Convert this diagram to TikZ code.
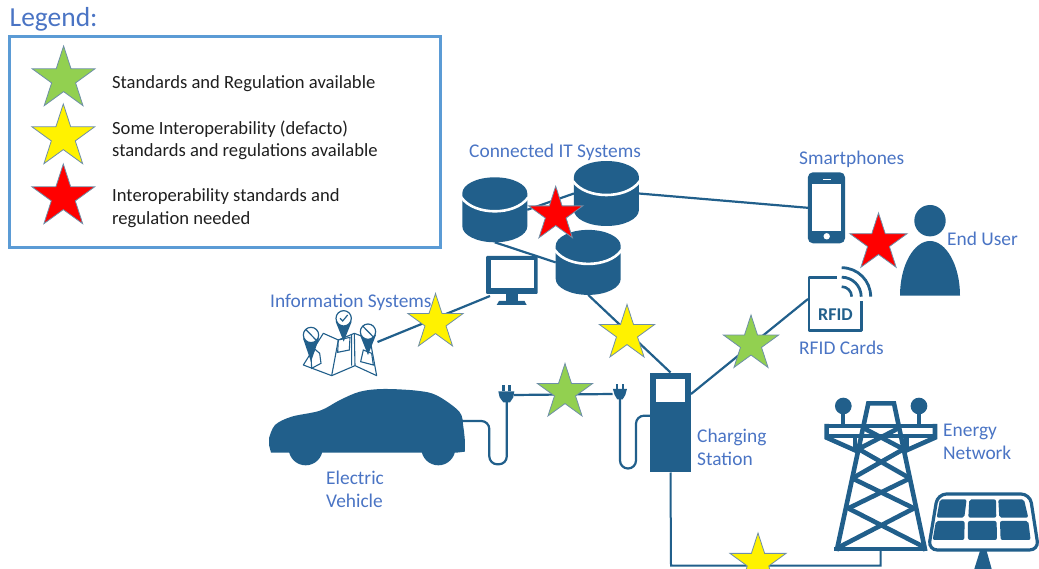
\documentclass[tikz,border=0pt]{standalone}
\usepackage{fontspec}
\setmainfont{Carlito}
\usetikzlibrary{shapes.geometric,calc}
\definecolor{icon}{HTML}{215F8B}
\definecolor{lbl}{HTML}{4A74C4}
\definecolor{boxline}{HTML}{5B9BD5}
\definecolor{stargreen}{HTML}{92D050}
\definecolor{staredge}{HTML}{6E8FA8}
\tikzset{
  box/.style={inner sep=0pt,outer sep=0pt,minimum width=#1},
  tall/.style={minimum height=#1},
  starmark/.style n args={2}{star,star points=5,star point ratio=2.618,inner sep=0pt,outer sep=0pt,
     minimum size=#1,fill=#2,draw=staredge,line width=.8pt},
  link/.style={draw=icon,line width=2.2pt},
  cable/.style={draw=icon,line width=2.2pt,rounded corners=8pt},
  label/.style={text=lbl,font=\fontsize{19.4}{23}\selectfont,inner sep=0pt,align=left,anchor=west},
  legendtext/.style={text=black!88,font=\fontsize{18.6}{22.5}\selectfont,inner sep=0pt,align=left,anchor=west},
}
\newcommand{\dbicon}[2]{% top-left corner in px
  \begin{scope}[shift={(#1pt,-#2pt)}]
    \fill[icon] (0,16) arc[start angle=180,end angle=360,x radius=32.5,y radius=16]
       -- (65,49) arc[start angle=0,end angle=180,x radius=32.5,y radius=16] -- cycle;
    \draw[white,line width=2.6pt] (-1,20) .. controls (6,30) and (20,34) .. (32.5,34) .. controls (45,34) and (59,30) .. (66,20);
  \end{scope}}
\newcommand{\mappin}[3]{% circle centre x,y tip y in map units
  \fill[icon] (#1-24,#2+10) -- (#1+24,#2+10) -- (#1,#3) -- cycle;
  \draw[icon,line width=1.2pt,fill=white] (#1,#2) circle[radius=23];}
\begin{document}
\begin{tikzpicture}[x=1pt,y=-1pt]
\useasboundingbox (0,0) rectangle (1039,569);
\clip (0,0) rectangle (1039,569);
% icon anchors
\node[box=65,tall=65] (db1) at (494.8,209.8) {};
\node[box=65,tall=65] (db2) at (606.4,193.5) {};
\node[box=65,tall=65] (db3) at (588.2,262.4) {};
\node[box=52,tall=49] (monitor) at (511.8,280.5) {};
\node[box=37,tall=71] (phone) at (826.4,207.8) {};
\node[box=54,tall=54] (rfid) at (835,303.7) {};
\node[box=41,tall=100] (station) at (670.5,422.5) {};
\node[box=75,tall=70] (mapicon) at (340,340) {};
\node[box=196,tall=80] (car) at (366,426) {};
\node[box=15,tall=17] (plugL) at (506.5,395) {};
\node[box=14,tall=15] (plugR) at (619.5,394) {};
\node[box=94,tall=18] (towerbase) at (880.5,542) {};
\coordinate (mapR) at (377.5,342);
\coordinate (monL) at (490,296);
\coordinate (stR) at (691,394);
\coordinate (rfidL) at (808,299);
\coordinate (corner1) at (671,565.5);
\coordinate (corner2) at (880.5,565.5);
\coordinate (carR) at (461.7,421);
\coordinate (plugLb) at (506.8,400);
\coordinate (plugRb) at (620,398);
\coordinate (stL) at (651,415.7);
% connectors
\draw[link] (db1.east) -- (db2.west);
\draw[link] (db1.south) -- (db3.west);
\draw[link] (db2.east) -- (phone.west);
\draw[link] (db3.south) -- (station.north);
\draw[link] (stR) -- (rfidL);
\draw[link] (mapR) -- (monL);
\draw[link] (plugL.east) -- (plugR.west);
\draw[draw=icon,line width=2pt] (station.south) -- (corner1) -- (corner2) -- (towerbase.south);
\draw[cable] (carR) -- (489.3,421) -- (489.3,464.3) -- (506.8,464.3) -- (plugLb);
\draw[cable] (plugRb) -- (620,468.5) -- (636,468.5) -- (636,415.7) -- (stL);
% legend
\draw[boxline,line width=3pt] (9.5,36.5) rectangle (440.5,247.5);
\node[text=lbl,font=\fontsize{27.5}{30}\selectfont,inner sep=0pt,anchor=west] (legendtitle) at (9.5,19) {Legend:};
\node[starmark={66pt}{stargreen}] (s1) at (63.6,79) {};
\node[starmark={66pt}{yellow}] (s2) at (63.3,137) {};
\node[starmark={66pt}{red}] (s3) at (63.3,197) {};
\node[legendtext] (t1) at (112,84) {Standards and Regulation available};
\node[legendtext] (t2) at (112,140.5) {Some Interoperability (defacto)\\standards and regulations available};
\node[legendtext] (t3) at (112,208) {Interoperability standards and\\regulation needed};
% databases
\dbicon{462.3}{177.3}
\dbicon{573.9}{161}
\dbicon{555.7}{229.9}
% monitor
\fill[icon,rounded corners=1pt] (486,256) rectangle (537.7,294);
\fill[white] (490.7,260) rectangle (534,288.3);
\fill[icon] (506,294) rectangle (518,301);
\fill[icon] (499,301) -- (524.5,301) -- (526.7,305) -- (496.7,305) -- cycle;
% map
\begin{scope}[shift={(295pt,-300pt)},x=.3333pt,y=-.3333pt]
  \draw[icon,line width=1.1pt,line join=round,fill=white] (25,195) -- (85,100) -- (130,120) -- (178,100) -- (225,118) -- (245,227) -- (180,197) -- (110,227) -- cycle;
  \draw[icon,line width=1.1pt] (110,227) -- (130,120) (180,197) -- (178,100) (170,197) -- (170,103);
  \draw[icon,line width=1.1pt,fill=white] (60,148) -- (74,160) -- (78,190) -- (50,205) -- (48,170) -- cycle;
  \draw[icon,line width=1.1pt,fill=white] (130,120) -- (165,112) -- (163,150) -- (128,157) -- cycle;
  \draw[icon,line width=1.1pt,fill=white] (205,150) -- (230,160) -- (235,195) -- (197,185) -- cycle;
  \mappin{48}{105}{185}
  \mappin{146}{55}{125}
  \mappin{219}{95}{165}
  \draw[icon,line width=1.2pt] (33,89) -- (64,121);
  \draw[icon,line width=1.2pt] (204,79) -- (235,111);
  \draw[icon,line width=1.2pt] (135,55) -- (143,63) -- (158,45);
\end{scope}
% car and plugs
\begin{scope}[shift={(260pt,-370pt)},x=.3333pt,y=-.3333pt]
  \fill[icon] (33,248) -- (27,225) -- plot[smooth,tension=.55] coordinates {(27,205) (45,165) (95,140) (180,122) (240,90) (300,65) (370,57) (470,62) (530,76) (598,125) (610,170) (615,215)} -- (615,245) -- (590,248) -- cycle;
  \fill[icon] (137,235) circle[radius=51];
  \fill[icon] (535,235) circle[radius=51];
  \fill[icon] (715,64) -- (763,64) -- (760,82) -- (750,97) -- (730,97) -- (719,82) -- cycle;
  \fill[icon] (726,46) rectangle (734,64);
  \fill[icon] (744,46) rectangle (752,64);
  \fill[icon] (1059,57) -- (1101,57) -- (1096,75) -- (1088,88) -- (1072,88) -- (1064,75) -- cycle;
  \fill[icon] (1068,42) rectangle (1075,57);
  \fill[icon] (1085,42) rectangle (1092,57);
\end{scope}
% station
\fill[icon] (650,372.7) rectangle (691,472.3);
\fill[white] (655.7,379) rectangle (685,402.3);
% phone
\fill[icon,rounded corners=5pt] (807.9,172.3) rectangle (845,243.3);
\fill[white] (811.7,184.3) rectangle (841,230.7);
\draw[white,line width=.9pt] (823,179.3) -- (830.5,179.3);
\fill[white] (826.7,236.3) circle[radius=3.2];
% user
\fill[icon] (930,220.7) circle[radius=15.7];
\fill[icon] (900,295.7) .. controls (900,265) and (914,241) .. (930,241) .. controls (946,241) and (960,265) .. (960,295.7) -- cycle;
% rfid
\draw[icon,line width=2.5pt,line join=round] (837,277.5) -- (808.8,277.5) -- (808.8,330.3) -- (861.5,330.3) -- (861.5,301.5);
\node[text=icon,font=\fontsize{18}{18}\selectfont\bfseries,inner sep=0pt] (rfidtext) at (835.5,314.5) {RFID};
\draw[icon,line width=2.8pt] (841.7,267.7) arc[start angle=-90,end angle=0,radius=29];
\draw[icon,line width=2.8pt] (841.7,277.2) arc[start angle=-90,end angle=0,radius=19.5];
\draw[icon,line width=2.6pt] (841.7,286.7) arc[start angle=-90,end angle=0,radius=10];
% tower
\begin{scope}[shift={(640pt,-370pt)},x=.3333pt,y=-.3333pt]
  \begin{scope}[icon,line width=4.6pt,line join=miter]
    \draw (590,543) -- (685,100) -- (762,100) -- (856,543);
    \draw (582,537) -- (862,537);
    \draw (672,175) -- (795,240) (775,175) -- (650,240);
    \draw (652,235) -- (810,325) (795,235) -- (637,325);
    \draw (637,325) -- (822,415) (810,325) -- (625,415);
    \draw (625,415) -- (850,530) (822,415) -- (600,530);
    \draw (560,168) -- (885,168);
    \draw (560,162) -- (560,203) -- (650,243);
    \draw (885,162) -- (885,203) -- (795,243);
    \draw (560,198) -- (885,198) ;
    \draw (645,198) -- (645,240) (800,198) -- (800,240);
  \end{scope}
  \fill[icon] (610,108) circle[radius=25];
  \fill[icon] (837,108) circle[radius=25];
  \fill[icon] (604,130) rectangle (616,165);
  \fill[icon] (831,130) rectangle (843,165);
  % solar
  \draw[icon,line width=3.2pt,rounded corners=9pt,fill=white] (893,372) -- (1170,372) -- (1196,540) -- (865,540) -- cycle;
  \foreach \xa/\xb/\ya/\yb/\xc/\xd in {
     900/980/388/443/890/973, 988/1068/388/443/985/1069, 1075/1152/388/443/1078/1165,
     888/974/453/510/878/973, 984/1070/453/510/984/1071, 1080/1165/453/510/1082/1172}{
    \fill[icon,rounded corners=2pt] (\xa,\ya) -- (\xb,\ya) -- (\xd,\yb) -- (\xc,\yb) -- cycle;
  }
  \fill[icon] (1020,543) -- (1040,543) -- (1056,600) -- (1002,600) -- cycle;
\end{scope}
% stars
\node[starmark={57pt}{red}] (r1) at (555.7,214.7) {};
\node[starmark={58pt}{yellow}] (y1) at (435.5,322.5) {};
\node[starmark={58pt}{yellow}] (y2) at (627,333.5) {};
\node[starmark={58pt}{stargreen}] (g1) at (565,392.5) {};
\node[starmark={58pt}{stargreen}] (g2) at (751,344) {};
\node[starmark={60pt}{red}] (r2) at (878.5,243) {};
\node[starmark={59pt}{yellow}] (y3) at (758,562.5) {};
% labels
\node[label] (lit) at (469,152.5) {Connected IT Systems};
\node[label] (lsm) at (799,159) {Smartphones};
\node[label] (leu) at (947,238.5) {End User};
\node[label] (lrf) at (799,347.5) {RFID Cards};
\node[label] (lis) at (270,302.5) {Information Systems};
\node[label] (lev) at (326,489.5) {Electric\\Vehicle};
\node[label] (lcs) at (697,447) {Charging\\Station};
\node[label] (len) at (943,441.5) {Energy\\Network};
\end{tikzpicture}
\end{document}
